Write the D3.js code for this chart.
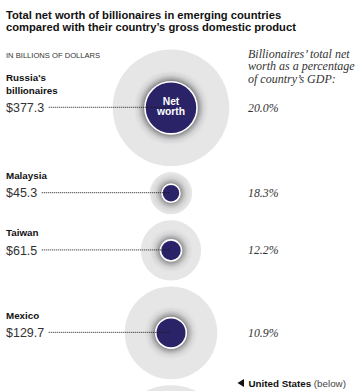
<!DOCTYPE html>
<html>
<head>
<meta charset="utf-8">
<script src="https://cdn.jsdelivr.net/npm/d3@7"></script>
<style>
  html, body { margin: 0; padding: 0; background: #fff; }
  svg { display: block; }
</style>
</head>
<body>
<svg id="chart" width="364" height="391"></svg>
<script>
// ---- Data ----
const countryNames = [["Russia's", "billionaires"], ["Malaysia"], ["Taiwan"], ["Mexico"]];
const netWorth = [377.3, 45.3, 61.5, 129.7];          // billions of dollars
const pctOfGDP = [20.0, 18.3, 12.2, 10.9];            // % of country's GDP
const valueLabels = ["$377.3", "$45.3", "$61.5", "$129.7"];
const pctLabels = ["20.0%", "18.3%", "12.2%", "10.9%"];
const nextRowGDP = 1700;                              // partially visible circle below (estimate)

const titleLines = ["Total net worth of billionaires in emerging countries",
                    "compared with their country\u2019s gross domestic product"];
const subtitle = "IN BILLIONS OF DOLLARS";
const rightHeader = ["Billionaires\u2019 total net", "worth as a percentage", "of country\u2019s GDP:"];

// ---- Derived ----
const gdp = netWorth.map((v, i) => v / (pctOfGDP[i] / 100));
const maxGDP = d3.max(gdp.concat([nextRowGDP]));
const rScale = d3.scaleSqrt().domain([0, maxGDP]).range([0, 1.342 * Math.sqrt(maxGDP)]);

const svg = d3.select("#chart");
const sans = "'Liberation Sans', Arial, sans-serif";
const serif = "'Liberation Serif', 'Times New Roman', serif";
const navy = "#2b2367";
const gray = "#e6e6e7";
const cx = 171;

// shadow filter
const defs = svg.append("defs");
const filt = defs.append("filter").attr("id", "glow")
  .attr("x", "-150%").attr("y", "-150%").attr("width", "400%").attr("height", "400%");
filt.append("feGaussianBlur").attr("stdDeviation", 5);

// Title
svg.append("g").selectAll("text").data(titleLines).join("text")
  .attr("x", 6).attr("y", (d, i) => 18.5 + i * 12.7)
  .attr("font-family", sans).attr("font-weight", "bold").attr("font-size", 11.2)
  .attr("fill", "#111").text(d => d);

svg.append("text").attr("x", 6).attr("y", 58)
  .attr("font-family", sans).attr("font-size", 7.6).attr("fill", "#333").text(subtitle);

svg.append("g").selectAll("text").data(rightHeader).join("text")
  .attr("x", 248).attr("y", (d, i) => 57.5 + i * 12.5)
  .attr("font-family", serif).attr("font-style", "italic").attr("font-size", 12)
  .attr("fill", "#333").text(d => d);

// Row layout: stack outer circles with a fixed gap
const gap = 6;
let yCursor = 49.5;
const rows = gdp.map((gv, i) => {
  const R = rScale(gv);
  const cy = yCursor + R;
  yCursor = cy + R + gap;
  return { i, R, cy, ri: rScale(netWorth[i]) };
});
const nextR = rScale(nextRowGDP);
const nextCy = yCursor + nextR;

// next (partially visible) circle
svg.append("circle").attr("cx", cx).attr("cy", nextCy).attr("r", nextR).attr("fill", gray);

const g = svg.append("g").selectAll("g").data(rows).join("g");

g.append("circle").attr("cx", cx).attr("cy", d => d.cy).attr("r", d => d.R).attr("fill", gray);
g.append("circle").attr("cx", cx).attr("cy", d => d.cy).attr("r", d => d.ri + 1.5)
  .attr("fill", "#2e2e33").attr("opacity", 0.95).attr("filter", "url(#glow)");
g.append("circle").attr("cx", cx).attr("cy", d => d.cy).attr("r", d => d.ri)
  .attr("fill", navy).attr("stroke", "#fff").attr("stroke-width", 1.6);

// names
g.each(function(d) {
  const lines = countryNames[d.i];
  d3.select(this).selectAll("text.name").data(lines).join("text").attr("class", "name")
    .attr("x", 6).attr("y", (t, k) => d.cy - 14 - (lines.length - 1 - k) * 12.3)
    .attr("font-family", sans).attr("font-weight", "bold").attr("font-size", 9.8)
    .attr("fill", "#111").text(t => t);
});

// values
const vals = g.append("text").attr("x", 6).attr("y", d => d.cy + 4.3)
  .attr("font-family", sans).attr("font-size", 12.5).attr("fill", "#333")
  .text(d => valueLabels[d.i]);

// dotted leaders
vals.each(function(d) {
  const w = this.getComputedTextLength();
  d3.select(this.parentNode).append("line")
    .attr("x1", 6 + w + 4.5).attr("x2", cx - 1)
    .attr("y1", d.cy - 0.5).attr("y2", d.cy - 0.5)
    .attr("stroke", "#1a1a1a").attr("stroke-width", 1).attr("stroke-dasharray", "1,1");
});

// percentages
g.append("text").attr("x", 248).attr("y", d => d.cy + 4)
  .attr("font-family", serif).attr("font-style", "italic").attr("font-size", 11.8)
  .attr("fill", "#333").text(d => pctLabels[d.i]);

// "Net worth" label in first circle
svg.append("g").selectAll("text").data(["Net", "worth"]).join("text")
  .attr("x", cx).attr("y", (d, i) => rows[0].cy - 3 + i * 10.5)
  .attr("text-anchor", "middle").attr("font-family", sans).attr("font-weight", "bold")
  .attr("font-size", 10.3).attr("fill", "#fff").text(d => d);

// United States (below)
const us = svg.append("g");
us.append("path").attr("d", "M237.5,383 L244,379 L244,387 Z").attr("fill", "#111");
const ut = us.append("text").attr("x", 248.5).attr("y", 386.5)
  .attr("font-family", sans).attr("font-size", 9.8).attr("fill", "#111");
ut.append("tspan").attr("font-weight", "bold").text("United States");
ut.append("tspan").attr("fill", "#444").text(" (below)");
</script>
</body>
</html>
